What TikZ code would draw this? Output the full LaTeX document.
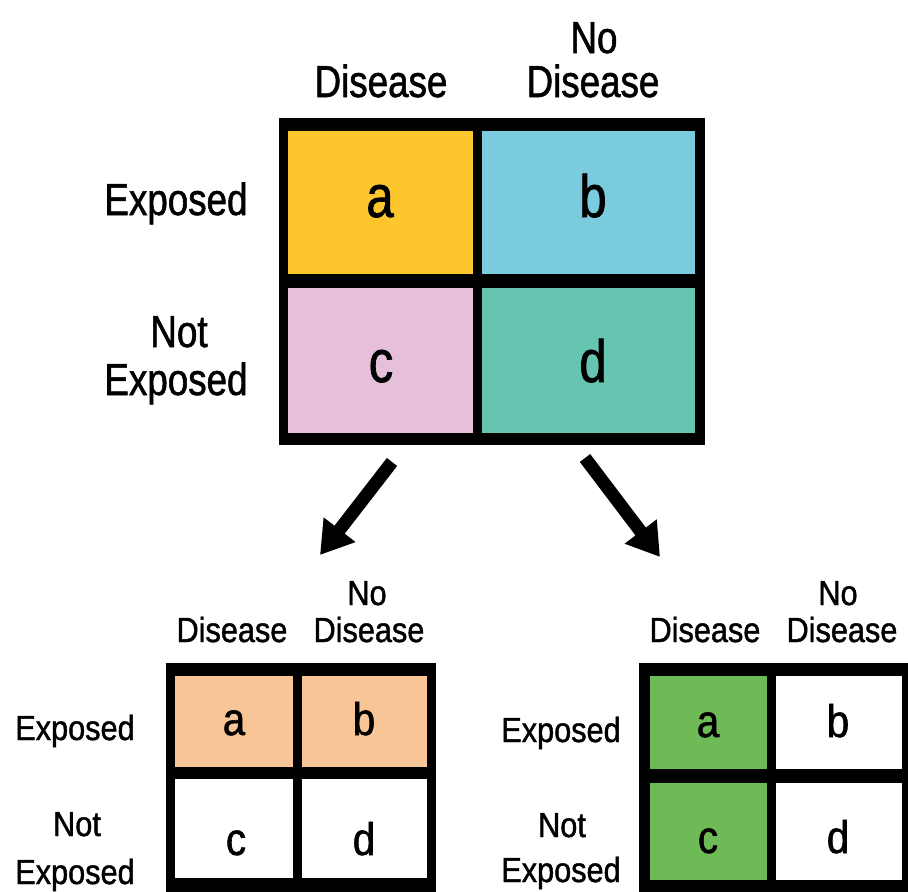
\documentclass[tikz,border=0pt]{standalone}
\usepackage{fontspec}
\usetikzlibrary{arrows.meta}
\newfontfamily\hdfont[FakeStretch=0.82,FakeBold=1.2]{Liberation Sans}
\newfontfamily\smfont[FakeStretch=0.88,FakeBold=1.2]{Liberation Sans}
\definecolor{cellA}{RGB}{252,198,44}
\definecolor{cellB}{RGB}{122,203,221}
\definecolor{cellC}{RGB}{230,192,219}
\definecolor{cellD}{RGB}{102,197,176}
\definecolor{peach}{RGB}{248,197,150}
\definecolor{leaf}{RGB}{109,186,87}
\begin{document}
\begin{tikzpicture}[x=1bp,y=-1bp,
  frame/.style={fill=black, draw=none, inner sep=0pt},
  cell/.style={draw=none, inner sep=0pt},
  biglbl/.style={inner sep=0pt, anchor=base, font=\hdfont\fontsize{45}{45}\selectfont},
  bigltr/.style={inner sep=0pt, anchor=base, font=\hdfont\fontsize{60}{60}\selectfont},
  smlbl/.style={inner sep=0pt, anchor=base, font=\smfont\fontsize{35}{35}\selectfont},
  smltr/.style={inner sep=0pt, anchor=base, font=\smfont\fontsize{46}{46}\selectfont},
  bigarrow/.style={line width=13bp, -{Triangle[width=38bp,length=32bp]}}]
\clip (0,0) rectangle (908,892);
\fill[white] (0,0) rectangle (908,892);

% ---------- main 2x2 table ----------
\node[frame, minimum width=426bp, minimum height=327bp] (tframe) at (492,281.5) {};
\node[cell, fill=cellA, minimum width=185bp, minimum height=143bp] (ta) at (380.5,202.5) {};
\node[cell, fill=cellB, minimum width=213bp, minimum height=143bp] (tb) at (588.5,202.5) {};
\node[cell, fill=cellC, minimum width=185bp, minimum height=145bp] (tc) at (380.5,360.5) {};
\node[cell, fill=cellD, minimum width=213bp, minimum height=145bp] (td) at (588.5,360.5) {};
\node[bigltr] (tal) at (380,217) {a};
\node[bigltr] (tbl) at (593,217) {b};
\node[bigltr] (tcl) at (381,382) {c};
\node[bigltr] (tdl) at (593,382) {d};

\node[biglbl] (th1) at (381,97) {Disease};
\node[biglbl] (th2a) at (594,53) {No};
\node[biglbl] (th2b) at (593,97) {Disease};
\node[biglbl] (tr1) at (176,215) {Exposed};
\node[biglbl] (tr2a) at (179,347) {Not};
\node[biglbl] (tr2b) at (176,395) {Exposed};

% ---------- arrows ----------
\coordinate (la1) at (392,462);
\coordinate (la2) at (320,555);
\coordinate (ra1) at (585,458);
\coordinate (ra2) at (660,557);
\draw[bigarrow] (la1) -- (la2);
\draw[bigarrow] (ra1) -- (ra2);

% ---------- lower left table (exposed row highlighted) ----------
\node[frame, minimum width=270bp, minimum height=229bp] (lframe) at (301,777.5) {};
\node[cell, fill=peach, minimum width=118bp, minimum height=91bp] (la) at (234,721.5) {};
\node[cell, fill=peach, minimum width=125bp, minimum height=91bp] (lb) at (364.5,721.5) {};
\node[cell, fill=white, minimum width=118bp, minimum height=99bp] (lc) at (234,828.5) {};
\node[cell, fill=white, minimum width=125bp, minimum height=99bp] (ld) at (364.5,828.5) {};
\node[smltr] (lal) at (234,735) {a};
\node[smltr] (lbl) at (364,735) {b};
\node[smltr] (lcl) at (236,855) {c};
\node[smltr] (ldl) at (364,855) {d};

\node[smlbl] (lh1) at (232,642) {Disease};
\node[smlbl] (lh2a) at (367,605) {No};
\node[smlbl] (lh2b) at (369,642) {Disease};
\node[smlbl] (lr1) at (75,740) {Exposed};
\node[smlbl] (lr2a) at (77,836) {Not};
\node[smlbl] (lr2b) at (75,884) {Exposed};

% ---------- lower right table (disease column highlighted) ----------
\node[frame, minimum width=270bp, minimum height=229bp] (rframe) at (774,777.5) {};
\node[cell, fill=leaf, minimum width=117bp, minimum height=93bp] (ra) at (708.5,722.5) {};
\node[cell, fill=white, minimum width=126bp, minimum height=93bp] (rb) at (839,722.5) {};
\node[cell, fill=leaf, minimum width=117bp, minimum height=97bp] (rc) at (708.5,831.5) {};
\node[cell, fill=white, minimum width=126bp, minimum height=97bp] (rd) at (839,831.5) {};
\node[smltr] (ral) at (708,737) {a};
\node[smltr] (rbl) at (838,737) {b};
\node[smltr] (rcl) at (708,853) {c};
\node[smltr] (rdl) at (838,853) {d};

\node[smlbl] (rh1) at (705,642) {Disease};
\node[smlbl] (rh2a) at (838,605) {No};
\node[smlbl] (rh2b) at (842,642) {Disease};
\node[smlbl] (rr1) at (561,742) {Exposed};
\node[smlbl] (rr2a) at (562,837) {Not};
\node[smlbl] (rr2b) at (561,882) {Exposed};
\end{tikzpicture}
\end{document}
